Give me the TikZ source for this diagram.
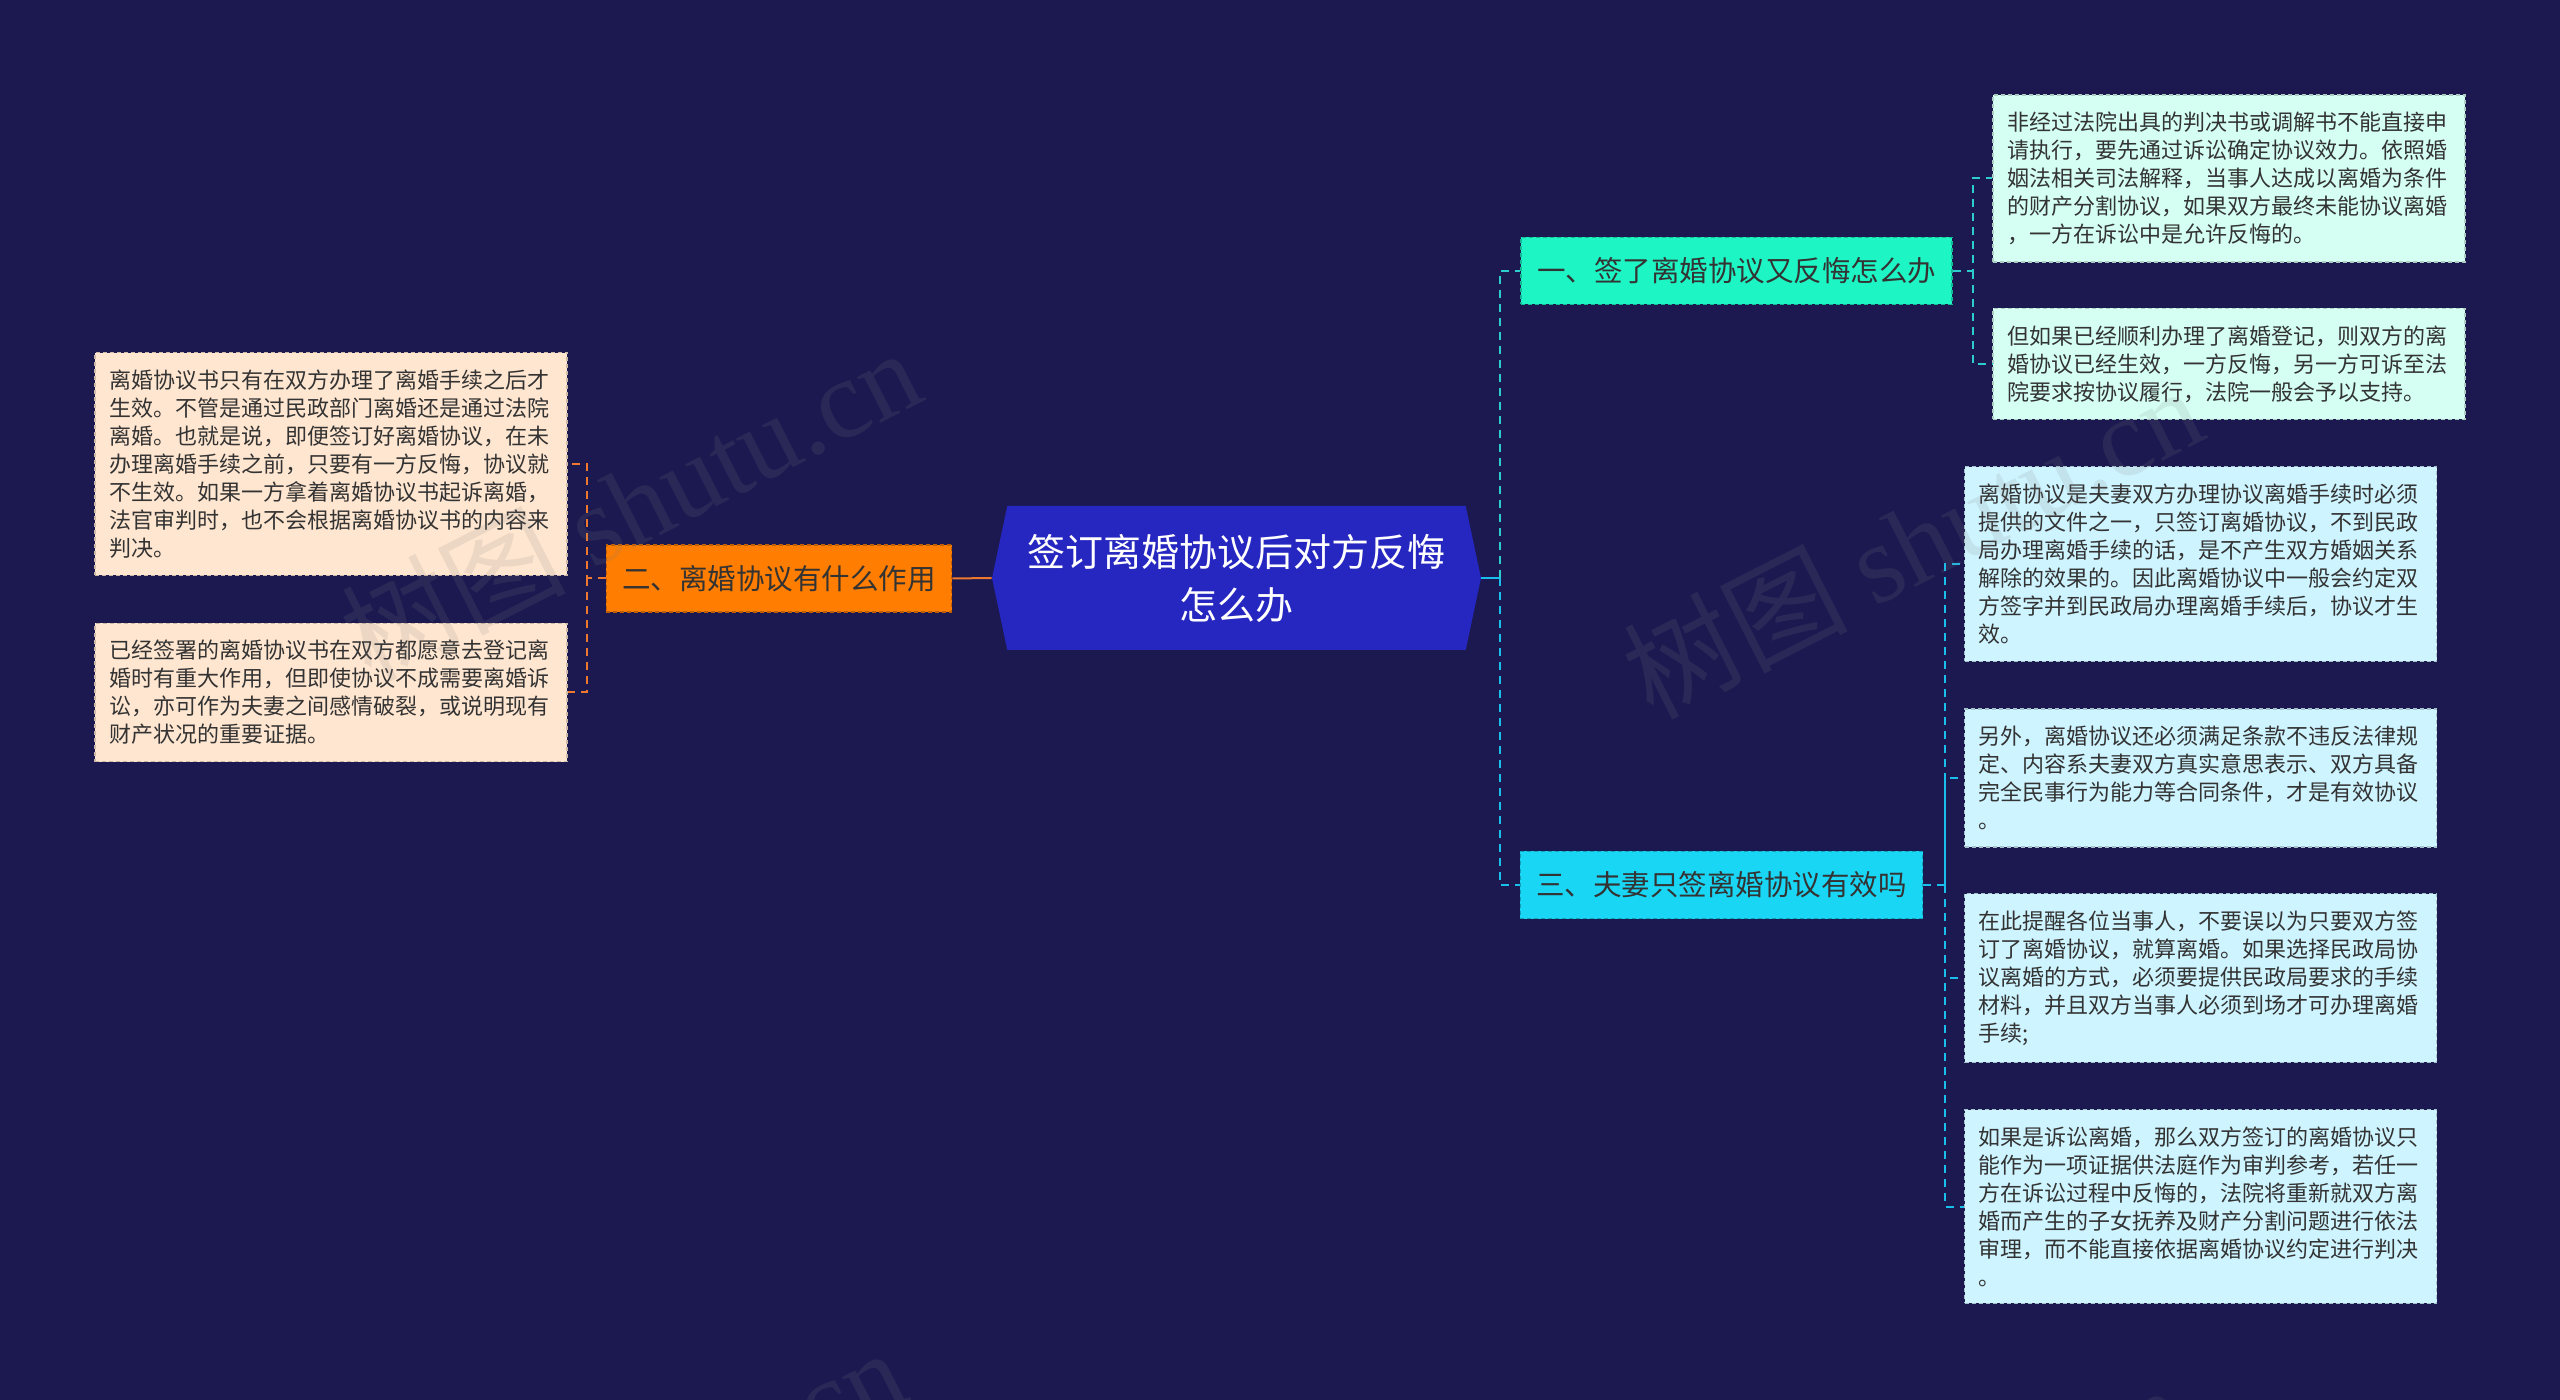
\documentclass[tikz,border=0pt]{standalone}
\usepackage{fontspec}
\setmainfont{Noto Sans CJK SC}
\newfontfamily\wmfont{Liberation Serif}
\usetikzlibrary{shapes.symbols}
\definecolor{bgnavy}{RGB}{27,25,80}
\definecolor{rootblue}{RGB}{38,38,192}
\definecolor{mint}{RGB}{29,245,196}
\definecolor{mintline}{RGB}{45,205,205}
\definecolor{sky}{RGB}{26,214,245}
\definecolor{skyline}{RGB}{25,190,235}
\definecolor{amber}{RGB}{255,125,0}
\definecolor{amberline}{RGB}{238,120,45}
\definecolor{mintleaf}{RGB}{212,255,242}
\definecolor{skyleaf}{RGB}{206,244,255}
\definecolor{peach}{RGB}{255,230,208}
\definecolor{inktext}{RGB}{51,51,51}
\begin{document}
\begin{tikzpicture}[x=0.5pt, y=-0.5pt,
    root/.style={signal, signal to=east and west, signal pointer angle=156,
      fill=rootblue, text=white, minimum width=244.5pt, minimum height=72pt,
      inner sep=0pt, align=center, font=\fontsize{19pt}{26.5pt}\selectfont},
    branch/.style={draw=#1!75!black, line width=0.6pt, dash pattern=on 2pt off 1.5pt,
      fill=#1, text=inktext, minimum height=33.5pt, inner xsep=8pt,
      font=\fontsize{14.25pt}{17pt}\selectfont},
    leaf/.style={draw=#1!80!black, line width=0.6pt, dash pattern=on 2pt off 1.5pt,
      fill=#1, text=inktext, text width=222pt, inner xsep=7pt, inner ysep=8.5pt,
      align=left, font=\fontsize{11pt}{14pt}\selectfont},
    link/.style={draw=#1, line width=1pt, dash pattern=on 4pt off 3pt},
    wmark/.style={text=gray, text opacity=0.15, rotate=27,
      font=\fontsize{56pt}{56pt}\selectfont}]
    \useasboundingbox (0,0) rectangle (2560,1400);
    \fill [bgnavy] (0,0) rectangle (2560,1400);

    \node [root] (root) at (1236.5,578) {签订离婚协议后对方反悔\\怎么办};

    \node [branch=mint] (b1) at (1736.5,271) {一、签了离婚协议又反悔怎么办};
    \node [branch=amber] (b2) at (779,578.5) {二、离婚协议有什么作用};
    \node [branch=sky] (b3) at (1721.5,885) {三、夫妻只签离婚协议有效吗};

    \node [leaf=mintleaf] (r1) at (2229,178.5) {非经过法院出具的判决书或调解书不能直接申\\
      请执行，要先通过诉讼确定协议效力。依照婚\\
      姻法相关司法解释，当事人达成以离婚为条件\\
      的财产分割协议，如果双方最终未能协议离婚\\
      ，一方在诉讼中是允许反悔的。};
    \node [leaf=mintleaf] (r2) at (2229,364) {但如果已经顺利办理了离婚登记，则双方的离\\
      婚协议已经生效，一方反悔，另一方可诉至法\\
      院要求按协议履行，法院一般会予以支持。};

    \node [leaf=peach] (la) at (331,464) {离婚协议书只有在双方办理了离婚手续之后才\\
      生效。不管是通过民政部门离婚还是通过法院\\
      离婚。也就是说，即便签订好离婚协议，在未\\
      办理离婚手续之前，只要有一方反悔，协议就\\
      不生效。如果一方拿着离婚协议书起诉离婚，\\
      法官审判时，也不会根据离婚协议书的内容来\\
      判决。};
    \node [leaf=peach] (lb) at (331,692.5) {已经签署的离婚协议书在双方都愿意去登记离\\
      婚时有重大作用，但即使协议不成需要离婚诉\\
      讼，亦可作为夫妻之间感情破裂，或说明现有\\
      财产状况的重要证据。};

    \node [leaf=skyleaf] (r3) at (2200.5,564) {离婚协议是夫妻双方办理协议离婚手续时必须\\
      提供的文件之一，只签订离婚协议，不到民政\\
      局办理离婚手续的话，是不产生双方婚姻关系\\
      解除的效果的。因此离婚协议中一般会约定双\\
      方签字并到民政局办理离婚手续后，协议才生\\
      效。};
    \node [leaf=skyleaf] (r4) at (2200.5,778) {另外，离婚协议还必须满足条款不违反法律规\\
      定、内容系夫妻双方真实意思表示、双方具备\\
      完全民事行为能力等合同条件，才是有效协议\\
      。};
    \node [leaf=skyleaf] (r5) at (2200.5,978) {在此提醒各位当事人，不要误以为只要双方签\\
      订了离婚协议，就算离婚。如果选择民政局协\\
      议离婚的方式，必须要提供民政局要求的手续\\
      材料，并且双方当事人必须到场才可办理离婚\\
      手续;};
    \node [leaf=skyleaf] (r6) at (2200.5,1206.5) {如果是诉讼离婚，那么双方签订的离婚协议只\\
      能作为一项证据供法庭作为审判参考，若任一\\
      方在诉讼过程中反悔的，法院将重新就双方离\\
      婚而产生的子女抚养及财产分割问题进行依法\\
      审理，而不能直接依据离婚协议约定进行判决\\
      。};

    \coordinate (rj) at (1500,578);
    \coordinate (j1) at (1973,271);
    \coordinate (j2) at (587,578.5);
    \coordinate (j3) at (1945,885);

    \draw [amberline, line width=1pt] (root.west) -- (b2.east);
    \draw [skyline, line width=1pt] (root.east) -- (rj);
    \draw [link=mintline] (rj) |- (b1.west);
    \draw [link=skyline] (rj) |- (b3.west);
    \draw [link=mintline] (b1.east) -- (j1) |- (r1.west);
    \draw [link=mintline] (j1) |- (r2.west);
    \draw [link=amberline] (b2.west) -- (j2) |- (la.east);
    \draw [link=amberline] (j2) |- (lb.east);
    \draw [link=skyline] (b3.east) -- (j3) |- (r3.west);
    \draw [link=skyline] (j3) |- (r4.west);
    \draw [link=skyline] (j3) |- (r5.west);
    \draw [link=skyline] (j3) |- (r6.west);

    \begin{scope}
      \clip (0,0) rectangle (2560,1400);
      \node [wmark] (wm1) at (630,503) {树图 {\wmfont shutu.cn}};
      \node [wmark] (wm2) at (1912,541) {树图 {\wmfont shutu.cn}};
      \node [wmark] (wm3) at (615,1503) {树图 {\wmfont shutu.cn}};
      \node [wmark] (wm4) at (1895,1540) {树图 {\wmfont shutu.cn}};
    \end{scope}
\end{tikzpicture}
\end{document}
